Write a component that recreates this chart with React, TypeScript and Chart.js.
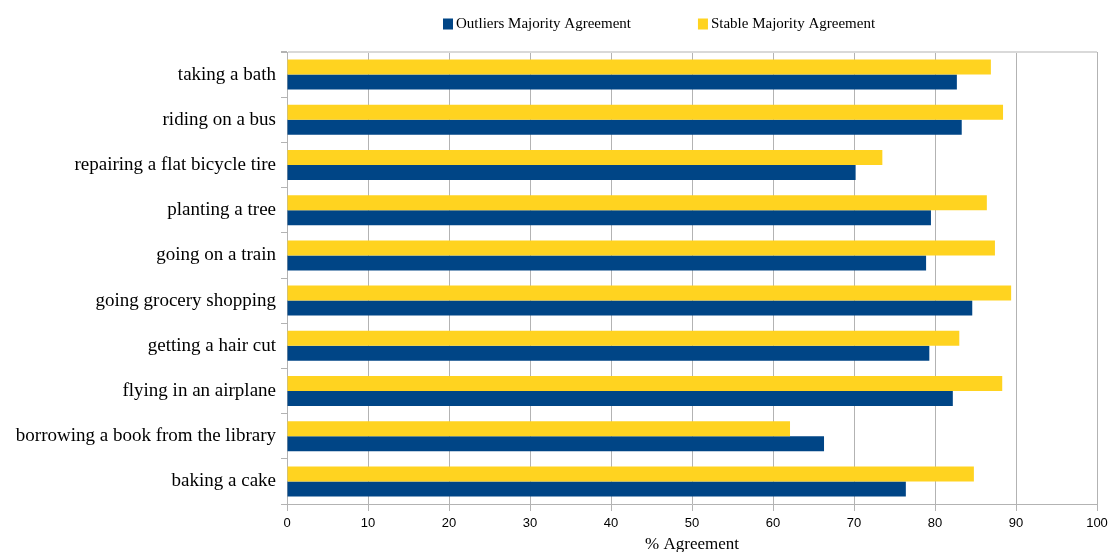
import React, { useEffect, useRef } from "react";
import { Chart, registerables } from "chart.js";

Chart.register(...registerables);

const categories = [
  "taking a bath",
  "riding on a bus",
  "repairing a flat bicycle tire",
  "planting a tree",
  "going on a train",
  "going grocery shopping",
  "getting a hair cut",
  "flying in an airplane",
  "borrowing a book from the library",
  "baking a cake",
];

const outliersValues = [82.7, 83.3, 70.2, 79.5, 78.9, 84.6, 79.3, 82.2, 66.3, 76.4];
const stableValues = [86.9, 88.4, 73.5, 86.4, 87.4, 89.4, 83.0, 88.3, 62.1, 84.8];

const seriesNames = ["Outliers Majority Agreement", "Stable Majority Agreement"];
const axisTitle = "% Agreement";

const NAVY = "#004586";
const YELLOW = "#ffd320";
const GRID = "#b3b3b3";

const legendPlugin = {
  id: "customLegend",
  afterDraw(chart: any) {
    const ctx = chart.ctx as CanvasRenderingContext2D;
    const area = chart.chartArea;
    ctx.save();
    ctx.font = '15px "Liberation Serif"';
    ctx.textBaseline = "middle";
    const items = [
      { label: seriesNames[0], color: NAVY },
      { label: seriesNames[1], color: YELLOW },
    ];
    const box = 10;
    const gapText = 3;
    const gapItem = 67;
    const widths = items.map((it) => ctx.measureText(it.label).width);
    let x = area.left + 156;
    const yc = 24;
    items.forEach((it, i) => {
      ctx.fillStyle = it.color;
      ctx.fillRect(x, yc - 5.5, box, 11);
      ctx.fillStyle = "#000";
      ctx.fillText(it.label, x + box + gapText, yc);
      x += box + gapText + widths[i] + gapItem;
    });
    ctx.restore();
  },
};

export default function App() {
  const ref = useRef<HTMLCanvasElement | null>(null);
  useEffect(() => {
    document.body.style.margin = "0";
    if (!ref.current) return;
    const chart = new Chart(ref.current, {
      type: "bar",
      data: {
        labels: categories,
        datasets: [
          {
            label: seriesNames[1],
            data: stableValues,
            backgroundColor: YELLOW,
            barPercentage: 1,
            categoryPercentage: 0.664,
          },
          {
            label: seriesNames[0],
            data: outliersValues,
            backgroundColor: NAVY,
            barPercentage: 1,
            categoryPercentage: 0.664,
          },
        ],
      },
      options: {
        indexAxis: "y",
        animation: false,
        responsive: false,
        layout: { padding: { top: 52, right: 0, left: 0, bottom: 0 } },
        plugins: {
          legend: { display: false },
          tooltip: { enabled: false },
        },
        scales: {
          x: {
            min: 0,
            max: 100,
            ticks: {
              stepSize: 10,
              color: "#000",
              font: { family: '"Liberation Sans"', size: 13 },
              padding: 5,
            },
            grid: {
              color: GRID,
              tickColor: GRID,
              tickLength: 7,
              lineWidth: 1,
            },
            border: { color: GRID },
            title: {
              display: true,
              text: axisTitle,
              color: "#000",
              font: { family: '"Liberation Serif"', size: 17 },
              padding: { top: 0, bottom: -3 },
            },
            afterFit: (scale: any) => {
              scale.height = 48;
              scale.paddingRight = 11;
            },
          },
          y: {
            ticks: {
              color: "#000",
              font: { family: '"Liberation Serif"', size: 19 },
              padding: 5,
            },
            grid: {
              offset: true,
              color: (c: any) => (c.index === 0 ? "#d9d9d9" : "rgba(0,0,0,0)"),
              lineWidth: (c: any) => (c.index === 0 ? 2 : 1),
              tickColor: GRID,
              tickLength: 6,
            },
            border: { color: GRID },
            afterFit: (scale: any) => {
              scale.width = 287;
            },
          },
        },
      },
      plugins: [legendPlugin],
    });
    return () => chart.destroy();
  }, []);
  return (
    <div style={{ width: 1108, height: 552 }}>
      <canvas ref={ref} width={1108} height={552} style={{ display: "block" }} />
    </div>
  );
}
